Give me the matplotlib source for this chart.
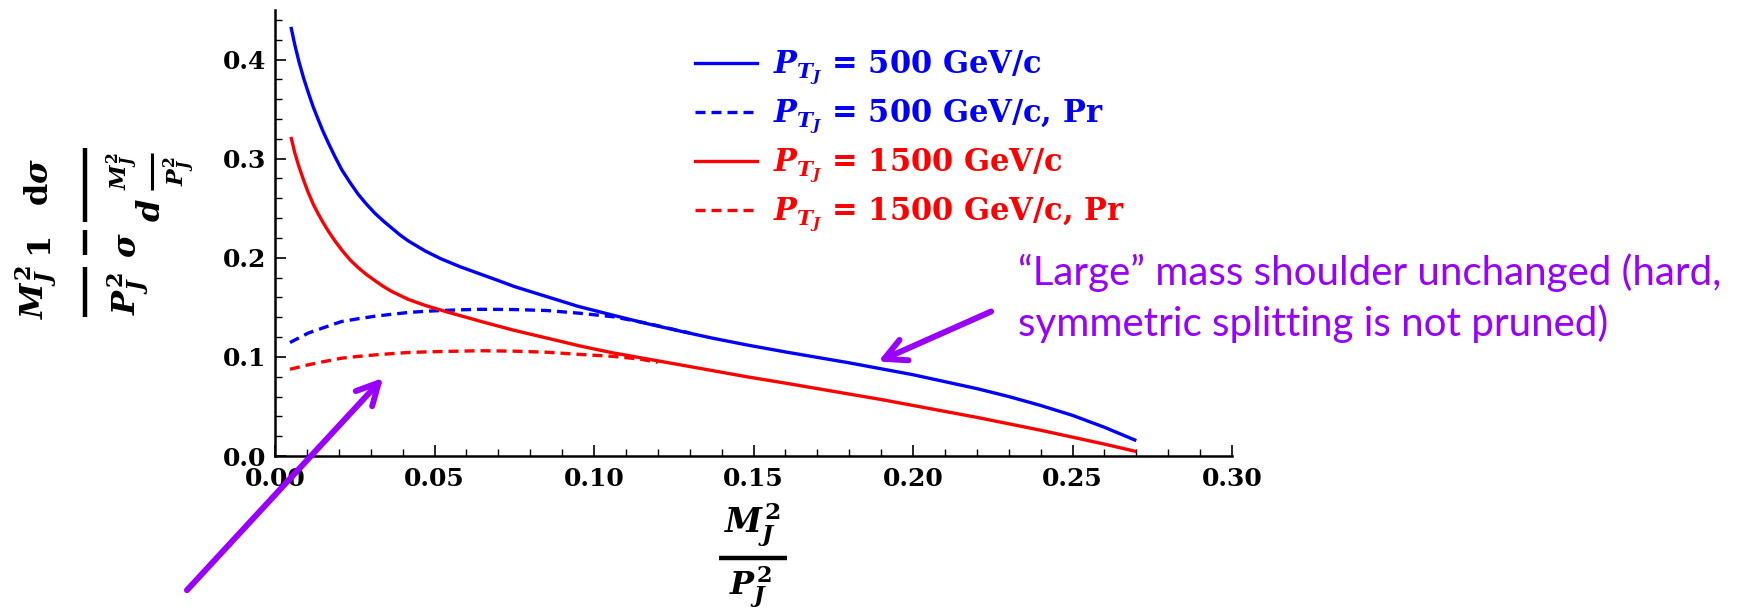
import matplotlib
matplotlib.use("Agg")
import matplotlib.pyplot as plt
from matplotlib.lines import Line2D
from matplotlib.ticker import MultipleLocator, FormatStrFormatter

# Normalised jet-mass distributions, x = M_J^2 / P_J^2
x_500 = [0.005, 0.0062, 0.0075, 0.009, 0.0104, 0.012, 0.0136, 0.015, 0.0167, 0.0188,
         0.0209, 0.0235, 0.0261, 0.0287, 0.0313, 0.034, 0.0366, 0.0392, 0.0418, 0.047,
         0.052, 0.058, 0.064, 0.070, 0.075, 0.085, 0.095, 0.106, 0.116, 0.127, 0.137,
         0.148, 0.16, 0.17, 0.18, 0.19, 0.20, 0.21, 0.22, 0.23, 0.24, 0.25, 0.26, 0.27]
y_500 = [0.433, 0.415, 0.398, 0.381, 0.367, 0.352, 0.339, 0.328, 0.316, 0.302,
         0.289, 0.276, 0.264, 0.254, 0.245, 0.237, 0.230, 0.223, 0.217, 0.207,
         0.199, 0.191, 0.184, 0.177, 0.171, 0.161, 0.151, 0.142, 0.134, 0.126, 0.119,
         0.112, 0.105, 0.0995, 0.094, 0.088, 0.082, 0.075, 0.068, 0.060, 0.051, 0.041,
         0.029, 0.0155]

x_500_pr = [0.0047, 0.0104, 0.0157, 0.0209, 0.0261, 0.0313, 0.0366, 0.0418, 0.047,
            0.0522, 0.058, 0.0643, 0.0747, 0.0852, 0.0956, 0.106, 0.1165, 0.127, 0.13]
y_500_pr = [0.1145, 0.124, 0.130, 0.1357, 0.1385, 0.141, 0.143, 0.1448, 0.146,
            0.1468, 0.1475, 0.148, 0.1478, 0.1468, 0.144, 0.1405, 0.1340, 0.1262, 0.1242]

x_1500 = [0.005, 0.0062, 0.0075, 0.009, 0.0104, 0.012, 0.0136, 0.015, 0.0167, 0.0188,
          0.0209, 0.0235, 0.0261, 0.0287, 0.0313, 0.034, 0.0366, 0.0392, 0.0418, 0.047,
          0.0543, 0.0643, 0.0747, 0.0852, 0.0956, 0.106, 0.1165, 0.127, 0.1374, 0.1478,
          0.16, 0.17, 0.18, 0.19, 0.20, 0.21, 0.22, 0.23, 0.24, 0.25, 0.26, 0.27]
y_1500 = [0.322, 0.306, 0.292, 0.278, 0.266, 0.254, 0.244, 0.236, 0.227, 0.217,
          0.208, 0.198, 0.190, 0.183, 0.177, 0.171, 0.166, 0.162, 0.158, 0.152,
          0.145, 0.136, 0.127, 0.119, 0.111, 0.104, 0.098, 0.092, 0.086, 0.080,
          0.0735, 0.068, 0.0625, 0.057, 0.051, 0.045, 0.039, 0.0325, 0.026, 0.019,
          0.012, 0.0045]

x_1500_pr = [0.0047, 0.0104, 0.0157, 0.0209, 0.0261, 0.0313, 0.0366, 0.0418, 0.047,
             0.0522, 0.058, 0.0643, 0.0747, 0.0852, 0.0956, 0.106, 0.1144, 0.12]
y_1500_pr = [0.0875, 0.092, 0.0955, 0.0987, 0.1005, 0.102, 0.1033, 0.1044, 0.105,
             0.1054, 0.1058, 0.1062, 0.1058, 0.1047, 0.1025, 0.1005, 0.0978, 0.0945]

labels = [r"$P_{T_J}$ = 500 GeV/c",
          r"$P_{T_J}$ = 500 GeV/c, Pr",
          r"$P_{T_J}$ = 1500 GeV/c",
          r"$P_{T_J}$ = 1500 GeV/c, Pr"]

note_lines = ["\u201cLarge\u201d mass shoulder unchanged (hard,",
              "symmetric splitting is not pruned)"]

BLUE = "#0000FF"
RED = "#FF0000"
PURPLE = "#9900FF"

plt.rcParams["font.family"] = ["DejaVu Serif"]
plt.rcParams["font.weight"] = "bold"
plt.rcParams["mathtext.fontset"] = "custom"
plt.rcParams["mathtext.rm"] = "DejaVu Serif:bold"
plt.rcParams["mathtext.bf"] = "DejaVu Serif:bold"
plt.rcParams["mathtext.it"] = "DejaVu Serif:italic:bold"

W, H = 1754, 609
fig = plt.figure(figsize=(W / 100, H / 100), dpi=100)


def fx(px):
    return px / W


def fy(py):
    # pixel rows counted from the top edge
    return 1 - py / H


ax = fig.add_axes([fx(275), fy(456), fx(1232) - fx(275), fy(10) - fy(456)])

lw = 2.4
dash = (3, 1.8)
ax.plot(x_500, y_500, color=BLUE, lw=lw, solid_capstyle="butt")
ax.plot(x_500_pr, y_500_pr, color=BLUE, lw=lw, dashes=dash)
ax.plot(x_1500, y_1500, color=RED, lw=lw, solid_capstyle="butt")
ax.plot(x_1500_pr, y_1500_pr, color=RED, lw=lw, dashes=dash)

ax.set_xlim(0, 0.30)
ax.set_ylim(0, 0.45)
for s in ("top", "right"):
    ax.spines[s].set_visible(False)
for s in ("left", "bottom"):
    ax.spines[s].set_linewidth(1.8)

ax.xaxis.set_major_locator(MultipleLocator(0.05))
ax.xaxis.set_minor_locator(MultipleLocator(0.01))
ax.yaxis.set_major_locator(MultipleLocator(0.1))
ax.yaxis.set_minor_locator(MultipleLocator(0.02))
ax.xaxis.set_major_formatter(FormatStrFormatter("%.2f"))
ax.yaxis.set_major_formatter(FormatStrFormatter("%.1f"))
ax.tick_params(which="major", direction="in", length=8, width=1.2, labelsize=18)
ax.tick_params(which="minor", direction="in", length=5, width=1.0)
ax.tick_params(axis="x", which="major", pad=8)
ax.tick_params(axis="y", which="major", pad=6)

handles = [Line2D([], [], color=BLUE, lw=lw),
           Line2D([], [], color=BLUE, lw=lw, dashes=dash),
           Line2D([], [], color=RED, lw=lw),
           Line2D([], [], color=RED, lw=lw, dashes=dash)]
ax.legend(handles, labels, loc="upper left", bbox_to_anchor=(fx(695), fy(49)),
          bbox_transform=fig.transFigure, frameon=False, fontsize=22,
          labelcolor="linecolor", handlelength=2.03, handletextpad=0.52,
          labelspacing=0.35, borderpad=0, borderaxespad=0)


def bar(x0, y0, x1, y1, width=3.2):
    fig.add_artist(Line2D([fx(x0), fx(x1)], [fy(y0), fy(y1)], color="black",
                          lw=width, solid_capstyle="butt",
                          transform=fig.transFigure))


# y-axis title: (M_J^2/P_J^2) (1/sigma) dsigma / d(M_J^2/P_J^2), read bottom-up
ykw = dict(rotation=90, ha="center", va="center", fontsize=23)
ysm = dict(rotation=90, ha="center", va="center", fontsize=16)
fig.text(fx(36), fy(292), r"$M_J^2$", **ykw)
fig.text(fx(128), fy(294), r"$P_J^2$", **ykw)
bar(85, 317, 85, 267)
fig.text(fx(39), fy(243), "1", **ykw)
fig.text(fx(128), fy(245), r"$\sigma$", **ykw)
bar(85, 255, 85, 230)
fig.text(fx(39), fy(182), r"d$\sigma$", **ykw)
bar(85, 222, 85, 148)
fig.text(fx(151), fy(210), r"$d$", **ykw)
fig.text(fx(122), fy(171), r"$M_J^2$", **ysm)
bar(152, 190, 152, 153, width=2.2)
fig.text(fx(179), fy(171), r"$P_J^2$", **ysm)

# x-axis title: M_J^2 / P_J^2
fig.text(fx(752), fy(533), r"$M_J^2$", ha="center", va="baseline", fontsize=24)
bar(719, 558, 787, 558)
fig.text(fx(750), fy(595), r"$P_J^2$", ha="center", va="baseline", fontsize=23)

fig.text(fx(1018), fy(285), note_lines[0], color=PURPLE, family=["Lato"],
         fontweight="normal", fontsize=29, va="baseline", ha="left")
fig.text(fx(1018), fy(336), note_lines[1], color=PURPLE, family=["Lato"],
         fontweight="normal", fontsize=29, va="baseline", ha="left")

arrow = dict(arrowstyle="->,head_length=0.78,head_width=0.4", color=PURPLE,
             lw=4.3, shrinkA=0, shrinkB=0, mutation_scale=20)
ax.annotate("", xy=(0.0339, 0.0788), xytext=(-0.0276, -0.1354),
            arrowprops=arrow, annotation_clip=False)
ax.annotate("", xy=(0.1891, 0.0953), xytext=(0.2245, 0.1458),
            arrowprops=arrow, annotation_clip=False)

fig.savefig("out.png", dpi=100)
